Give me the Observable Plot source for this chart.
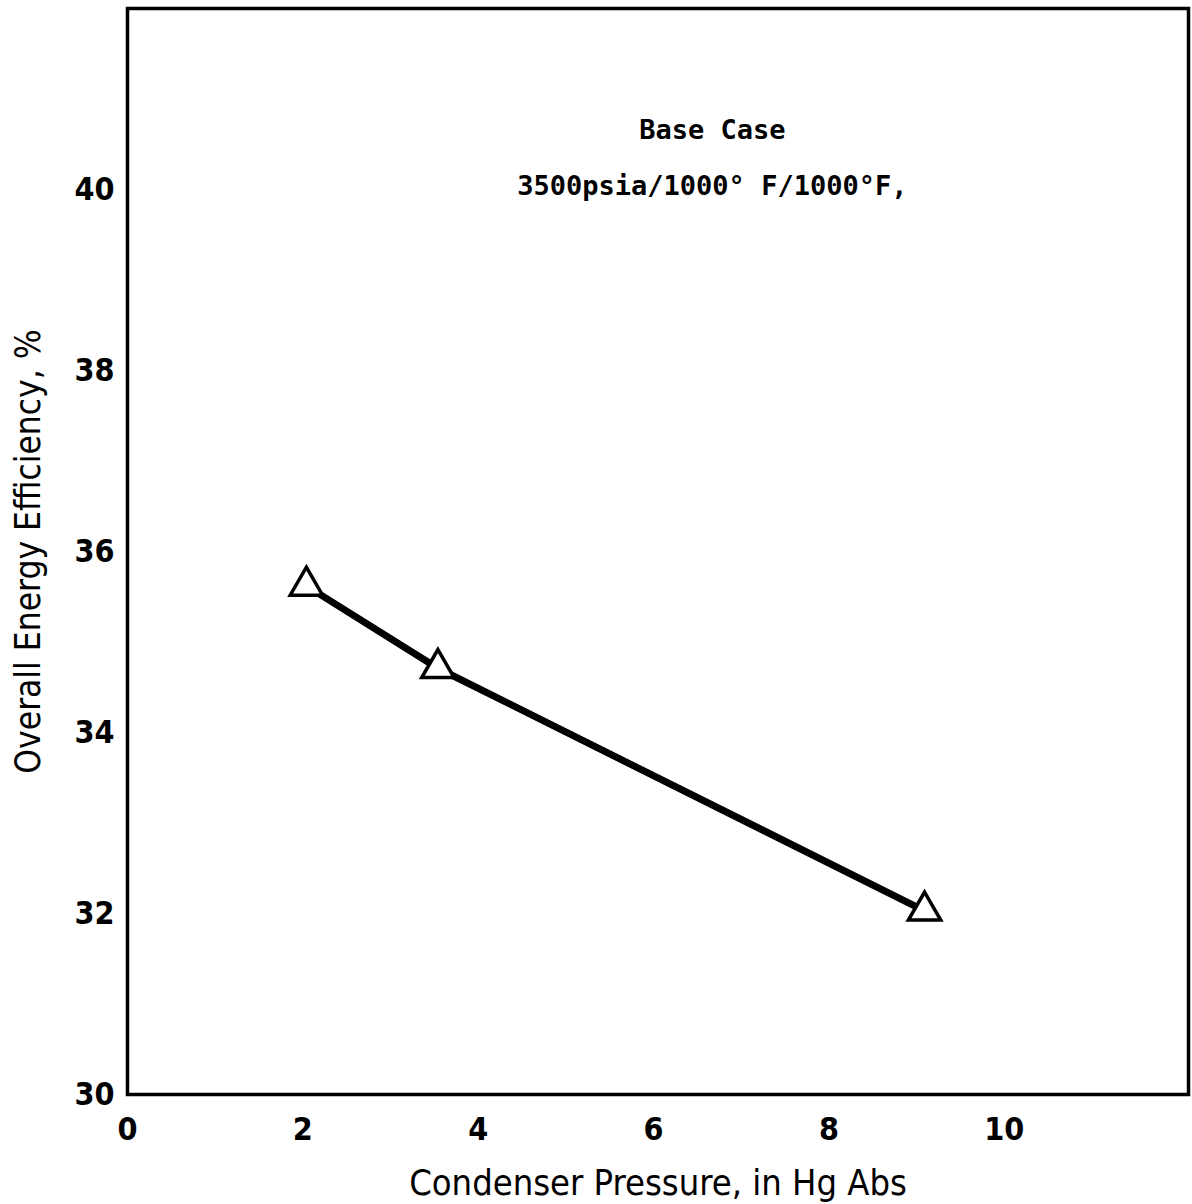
<!DOCTYPE html>
<html>
<head>
<meta charset="utf-8">
<script src="https://cdn.jsdelivr.net/npm/d3@7"></script>
<script src="https://cdn.jsdelivr.net/npm/@observablehq/plot@0.6"></script>
<style>
  html, body { margin: 0; padding: 0; background: #fff; }
  #chart svg { display: block; }
  #chart svg text { font-stretch: condensed; }
</style>
</head>
<body>
<div id="chart"></div>
<script>
// Data
const pressure = [2.04, 3.54, 9.09];       // Condenser pressure, in Hg Abs
const efficiency = [35.62, 34.71, 32.03];  // Overall energy efficiency, %
const xTicks = [0, 2, 4, 6, 8, 10];
const yTicks = [30, 32, 34, 36, 38, 40];
const noteLines = ["Base Case", "3500psia/1000° F/1000°F,"];
const noteX = [6.67, 6.67];
const noteY = [40.65, 40.04];

const data = pressure.map((p, i) => ({p, e: efficiency[i]}));
const notes = noteLines.map((t, i) => ({t, x: noteX[i], y: noteY[i]}));

const font = "'DejaVu Sans Condensed', 'DejaVu Sans', sans-serif";

const chart = Plot.plot({
  width: 1192,
  height: 1204,
  marginLeft: 127,
  marginRight: 4,
  marginTop: 8,
  marginBottom: 110,
  style: {fontFamily: font, fontSize: "32px", color: "#000", background: "#fff"},
  x: {domain: [0, 12.1]},
  y: {domain: [30, 42]},
  marks: [
    Plot.axisX({ticks: xTicks, tickSize: 0, tickPadding: 23, fontSize: 32, fontWeight: "bold",
      label: null}),
    Plot.axisY({ticks: yTicks, tickSize: 0, tickPadding: 13, fontSize: 32, fontWeight: "bold",
      label: null}),
    Plot.axisX({ticks: [], tickSize: 0, fontSize: 36, fontWeight: 500,
      label: "Condenser Pressure, in Hg Abs", labelAnchor: "center", labelArrow: "none", labelOffset: 100}),
    Plot.axisY({ticks: [], tickSize: 0, fontSize: 35, fontWeight: 500,
      label: "Overall Energy Efficiency, %", labelAnchor: "center", labelArrow: "none", labelOffset: 112}),
    Plot.frame({stroke: "#000", strokeWidth: 3.5}),
    Plot.line(data, {x: "p", y: "e", stroke: "#000", strokeWidth: 7}),
    Plot.dot(data, {x: "p", y: "e", symbol: "triangle", r: 12, fill: "#fff", stroke: "#000", strokeWidth: 3.5}),
    Plot.text(notes, {x: "x", y: "y", text: "t", fontFamily: "'DejaVu Sans Mono', monospace", fontSize: 27, fontWeight: "bold", textAnchor: "middle", fill: "#000"})
  ]
});
document.getElementById("chart").appendChild(chart);
</script>
</body>
</html>
